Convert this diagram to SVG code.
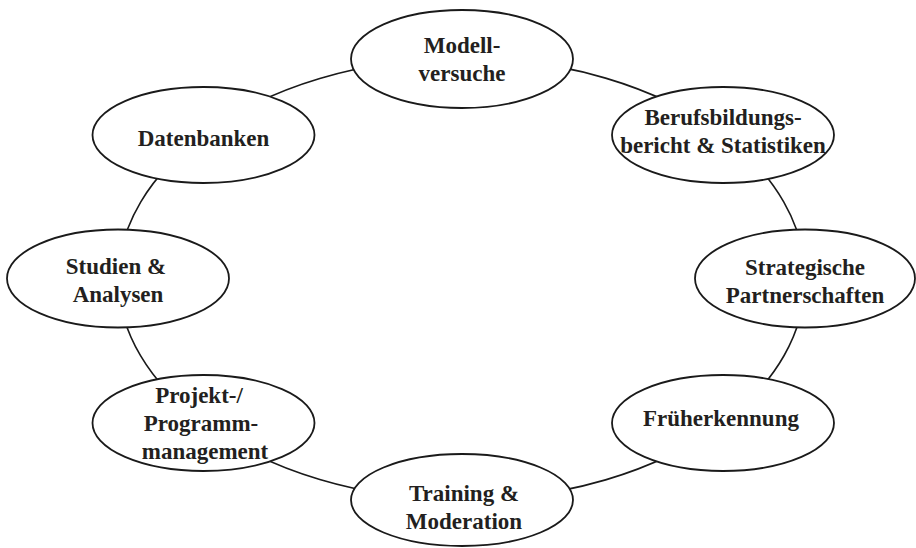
<svg xmlns="http://www.w3.org/2000/svg" width="916" height="548" viewBox="0 0 916 548">
  <style>
    .node ellipse { fill: #ffffff; stroke: #1a1a1a; stroke-width: 1.8; }
    .node text { font-family: "Liberation Serif", "Times New Roman", serif; font-weight: bold; font-size: 23px; fill: #231f20; text-anchor: middle; }
    .link { fill: none; stroke: #1a1a1a; stroke-width: 1.6; }
  </style>
  <rect width="916" height="548" fill="#ffffff"/>

  <!-- ring connectors: arcs of one large ellipse through the node centres -->
  <g id="connectors">
    <path class="link" d="M462,58 A344,221.5 0 0 1 723,135"/>
    <path class="link" d="M723,135 A344,221.5 0 0 1 805,278.5"/>
    <path class="link" d="M805,278.5 A344,221.5 0 0 1 723,423"/>
    <path class="link" d="M723,423 A344,221.5 0 0 1 462,500"/>
    <path class="link" d="M462,500 A344,221.5 0 0 1 203.5,423"/>
    <path class="link" d="M203.5,423 A344,221.5 0 0 1 118,278.5"/>
    <path class="link" d="M118,278.5 A344,221.5 0 0 1 203.5,135"/>
    <path class="link" d="M203.5,135 A344,221.5 0 0 1 462,58"/>
  </g>

  <g id="node-modellversuche" class="node">
    <ellipse cx="462" cy="59" rx="111" ry="49"/>
    <text x="462" y="53">Modell-</text>
    <text x="462" y="81">versuche</text>
  </g>

  <g id="node-berufsbildungsbericht" class="node">
    <ellipse cx="723" cy="135" rx="111" ry="48"/>
    <text x="723" y="125">Berufsbildungs-</text>
    <text x="723" y="153">bericht &amp; Statistiken</text>
  </g>

  <g id="node-strategische-partnerschaften" class="node">
    <ellipse cx="805" cy="278.5" rx="110" ry="49"/>
    <text x="805" y="275">Strategische</text>
    <text x="805" y="303">Partnerschaften</text>
  </g>

  <g id="node-frueherkennung" class="node">
    <ellipse cx="723" cy="423" rx="111" ry="48"/>
    <text x="721" y="426">Früherkennung</text>
  </g>

  <g id="node-training-moderation" class="node">
    <ellipse cx="462" cy="500" rx="111" ry="46"/>
    <text x="464" y="501">Training &amp;</text>
    <text x="464" y="529">Moderation</text>
  </g>

  <g id="node-projektmanagement" class="node">
    <ellipse cx="203.5" cy="423" rx="111" ry="48"/>
    <text x="199" y="403">Projekt-/</text>
    <text x="201" y="431">Programm-</text>
    <text x="205" y="459">management</text>
  </g>

  <g id="node-studien-analysen" class="node">
    <ellipse cx="118" cy="278.5" rx="111" ry="49"/>
    <text x="116" y="274">Studien &amp;</text>
    <text x="118" y="302">Analysen</text>
  </g>

  <g id="node-datenbanken" class="node">
    <ellipse cx="203.5" cy="135" rx="111" ry="48"/>
    <text x="203.5" y="146">Datenbanken</text>
  </g>
</svg>
